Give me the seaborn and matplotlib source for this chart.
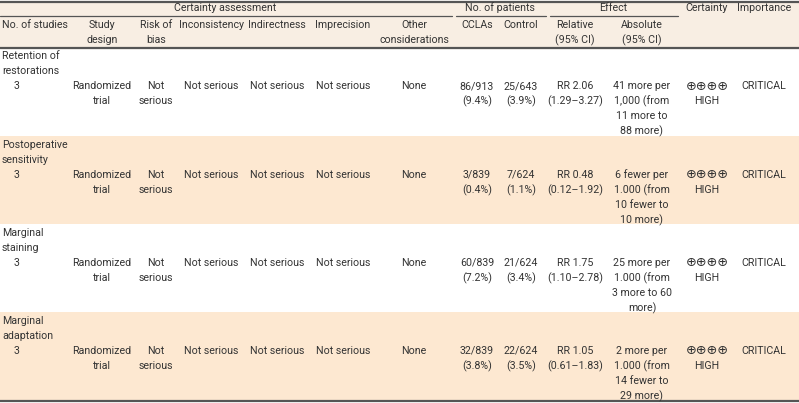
import matplotlib.pyplot as plt
import numpy as np
import seaborn as sns
from matplotlib.colors import ListedColormap

# table content
outcomes = ["Retention of\nrestorations", "Postoperative\nsensitivity",
            "Marginal\nstaining", "Marginal\nadaptation"]
n_studies = ["3", "3", "3", "3"]
study_design = ["Randomized\ntrial"] * 4
risk_of_bias = ["Not\nserious"] * 4
inconsistency = ["Not serious"] * 4
indirectness = ["Not serious"] * 4
imprecision = ["Not serious"] * 4
other = ["None"] * 4
ccla = ["86/913\n(9.4%)", "3/839\n(0.4%)", "60/839\n(7.2%)", "32/839\n(3.8%)"]
control = ["25/643\n(3.9%)", "7/624\n(1.1%)", "21/624\n(3.4%)", "22/624\n(3.5%)"]
relative = ["RR 2.06\n(1.29\u20133.27)", "RR 0.48\n(0.12\u20131.92)",
            "RR 1.75\n(1.10\u20132.78)", "RR 1.05\n(0.61\u20131.83)"]
absolute = ["41 more per\n1,000 (from\n11 more to\n88 more)",
            "6 fewer per\n1.000 (from\n10 fewer to\n10 more)",
            "25 more per\n1.000 (from\n3 more to 60\nmore)",
            "2 more per\n1.000 (from\n14 fewer to\n29 more)"]
certainty = ["\u2295\u2295\u2295\u2295\nHIGH"] * 4
importance = ["CRITICAL"] * 4

group_heads = ["Certainty assessment", "No. of patients", "Effect"]
col_heads = ["No. of studies", "Study\ndesign", "Risk of\nbias", "Inconsistency",
             "Indirectness", "Imprecision", "Other\nconsiderations", "CCLAs",
             "Control", "Relative\n(95% CI)", "Absolute\n(95% CI)"]

# layout (pixels)
W, H = 799, 403
col_x = [17, 102, 156, 211, 277, 343, 414, 477, 521, 575, 642, 707, 764]
row_top = [48, 137, 225, 313]
row_bottom = 400
line_h = 15
txt = "#333333"
peach = "#fde8d1"
head_bg = "#f8eee3"

sns.set_theme(style="white")
plt.rcParams['font.family'] = ['Roboto', 'DejaVu Sans']
fs = 7.7

fig = plt.figure(figsize=(W / 100, H / 100), dpi=100)

# row bands drawn as a one-column heatmap
band_ax = fig.add_axes([0, 1 - row_bottom / H, 1, (row_bottom - row_top[0]) / H])
bands = np.array([[i % 2] for i in range(len(outcomes))])
sns.heatmap(bands, ax=band_ax, cmap=ListedColormap(["white", peach]), cbar=False,
            xticklabels=False, yticklabels=False, linewidths=0)
band_ax.set_axis_off()

ax = fig.add_axes([0, 0, 1, 1])
ax.set_xlim(0, W)
ax.set_ylim(H, 0)
ax.set_axis_off()
ax.patch.set_alpha(0)
ax.axhspan(1, 47.5, color=head_bg, zorder=0)


def put(x, y, s, ha="center", size=fs):
    for i, line in enumerate(s.split("\n")):
        # the circled-plus signs come out small, give them a bit more size
        sz = size * 1.2 if "\u2295" in line else size
        ax.text(x, y + i * line_h, line, ha=ha, va="center", fontsize=sz, color=txt)


# header
put(225, 8, group_heads[0])
put(500, 8, group_heads[1])
put(613, 8, group_heads[2])
put(707, 8, "Certainty")
put(764, 8, "Importance")
put(2, 25, col_heads[0], ha="left")
for x, h in zip(col_x[1:11], col_heads[1:]):
    put(x, 25, h)

ax.plot([0, W], [1.5, 1.5], color="#555555", lw=1.6)
ax.plot([0, 452], [16, 16], color="#555555", lw=0.9)
ax.plot([456, 546], [16, 16], color="#555555", lw=0.9)
ax.plot([550, 678], [16, 16], color="#555555", lw=0.9)
ax.plot([0, W], [47.5, 47.5], color="#555555", lw=1.6)
ax.plot([0, W], [401, 401], color="#555555", lw=1.6)

# body
columns = [n_studies, study_design, risk_of_bias, inconsistency, indirectness,
           imprecision, other, ccla, control, relative, absolute, certainty, importance]
for r, top in enumerate(row_top):
    put(2, top + 8, outcomes[r], ha="left")
    for x, col in zip(col_x, columns):
        put(x, top + 38, col[r])

fig.savefig("out.png", dpi=100)
